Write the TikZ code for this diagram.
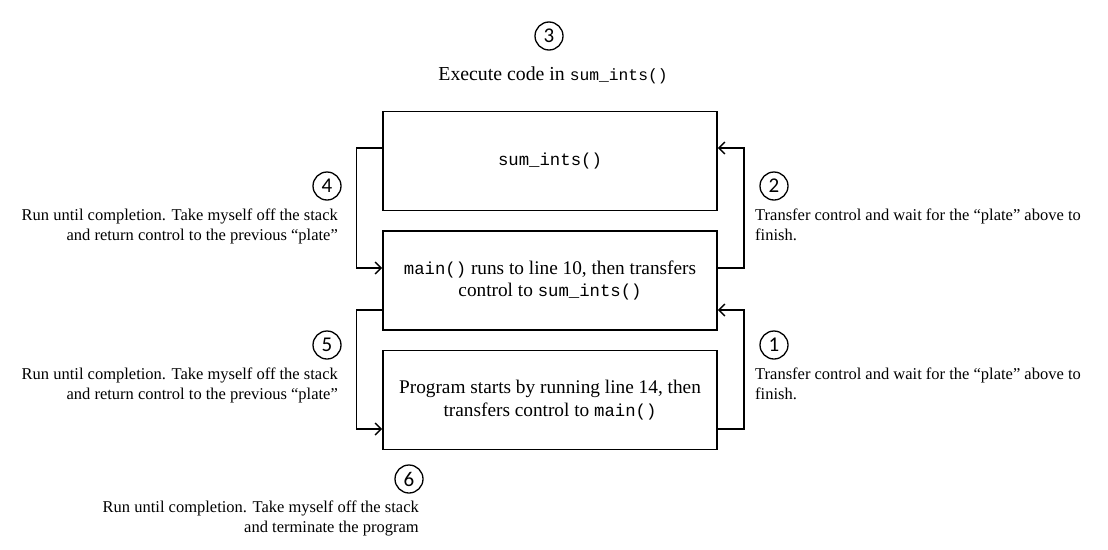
\documentclass[tikz,border=0pt]{standalone}
\usepackage{fontspec}
\setmainfont{Liberation Serif}
\newfontfamily\monofam{Liberation Mono}
\newfontfamily\numfont{Carlito}
\newcommand{\boxcode}[1]{{\monofam\fontsize{17.3}{22.5}\selectfont #1}}
\newcommand{\topcode}[1]{{\monofam\fontsize{16.3}{20}\selectfont #1}}
\usetikzlibrary{arrows.meta}
\begin{document}
\begin{tikzpicture}[x=1pt,y=-1pt,
  plate/.style={draw, line width=1.6pt, minimum width=334pt, minimum height=99pt, inner sep=0pt, align=center, font=\fontsize{19.3}{22.5}\selectfont},
  num/.style={draw, circle, line width=1.3pt, minimum size=28pt, inner sep=0pt, font=\numfont\fontsize{21}{21}\selectfont},
  note/.style={inner sep=0pt, font=\fontsize{16.5}{20}\selectfont},
  conn/.style={line width=1.4pt, -{Straight Barb[length=6pt,width=12pt,line width=1.4pt]}}]
\useasboundingbox (0,0) rectangle (1108,549);
\node[plate] (top) at (550,161) {\boxcode{sum\_ints()}};
\node[plate] (mid) at (550,280.5) {\boxcode{main()} runs to line 10, then transfers\\control to \boxcode{sum\_ints()}};
\node[plate] (bot) at (550,400) {Program starts by running line 14, then\\transfers control to \boxcode{main()}};

\node[num] (n3) at (549,36) {3};
\node[num] (n4) at (327,186) {4};
\node[num] (n2) at (774,186) {2};
\node[num] (n5) at (327,345) {5};
\node[num] (n1) at (774,345) {1};
\node[num] (n6) at (409,479) {6};

\node[note, anchor=base, font=\fontsize{19.8}{20}\selectfont] (t3) at (553,80) {Execute code in \topcode{sum\_ints()}};
\node[note, anchor=north east, align=right] (t4) at (338,209) {Run until completion. Take myself off the stack\\and return control to the previous “plate”};
\node[note, anchor=north east, align=right] (t5) at (338,368) {Run until completion. Take myself off the stack\\and return control to the previous “plate”};
\node[note, anchor=north east, align=right] (t6) at (419,501) {Run until completion. Take myself off the stack\\and terminate the program};
\node[note, anchor=north west, align=left] (t2) at (755,209) {Transfer control and wait for the “plate” above to\\finish.};
\node[note, anchor=north west, align=left] (t1) at (755,368) {Transfer control and wait for the “plate” above to\\finish.};

\draw[conn] ([yshift=12.5pt]mid.east) -- ++(26,0) |- ([yshift=13pt]top.east);
\draw[conn] ([yshift=-29pt]bot.east) -- ++(26,0) |- ([yshift=-29.5pt]mid.east);
\draw[conn] ([yshift=13pt]top.west) -- ++(-26,0) |- ([yshift=12.5pt]mid.west);
\draw[conn] ([yshift=-29.5pt]mid.west) -- ++(-26,0) |- ([yshift=-29pt]bot.west);
\end{tikzpicture}
\end{document}
